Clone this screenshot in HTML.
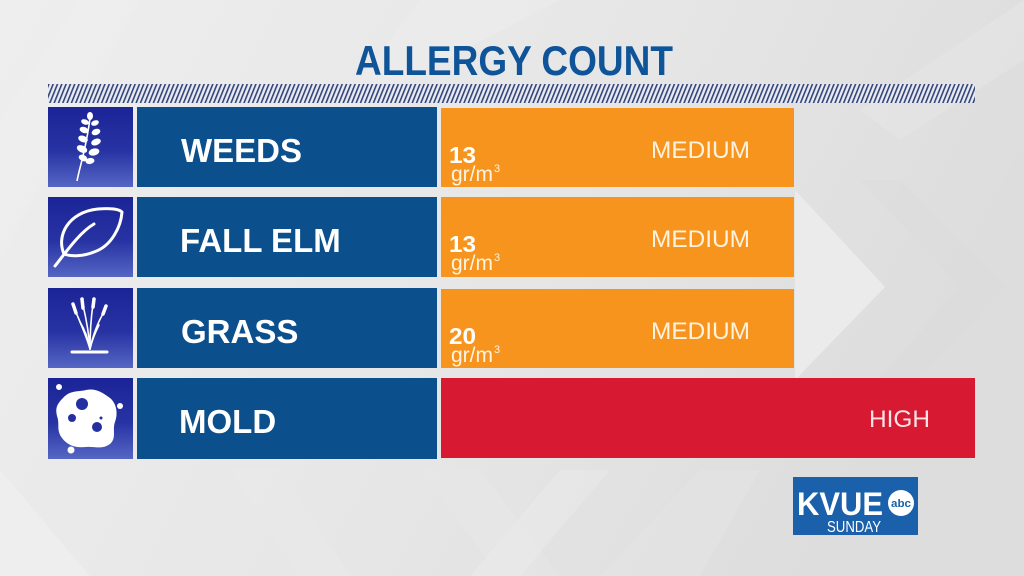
<!DOCTYPE html>
<html><head><meta charset="utf-8"><style>
html,body{margin:0;padding:0;background:#e4e4e4;}
svg{display:block;}
text{font-family:"Liberation Sans",Arial,sans-serif;}
</style></head><body>
<svg width="1024" height="576" viewBox="0 0 1024 576" xmlns="http://www.w3.org/2000/svg">
<defs>
<linearGradient id="bg" x1="0" y1="0" x2="1" y2="0.3">
<stop offset="0" stop-color="#eeeeee"/><stop offset="0.6" stop-color="#e6e6e6"/><stop offset="1" stop-color="#dddddd"/>
</linearGradient>
<linearGradient id="ic" x1="0" y1="0" x2="0" y2="1">
<stop offset="0" stop-color="#1b2496"/><stop offset="0.55" stop-color="#2833a3"/><stop offset="1" stop-color="#5566c4"/>
</linearGradient>
<pattern id="hatch" patternUnits="userSpaceOnUse" width="4" height="4" patternTransform="rotate(22)">
<rect width="4" height="4" fill="#e9ebf1"/><rect x="0" width="1.6" height="4" fill="#33457a"/>
</pattern>
</defs>
<rect width="1024" height="576" fill="url(#bg)"/>
<!-- background shapes -->
<polygon points="0,120 80,0 140,0 0,260" fill="#f0f0f0" opacity="0.4"/>
<polygon points="330,120 420,0 560,0" fill="#f2f2f2" opacity="0.35"/>
<polygon points="0,470 0,576 90,576" fill="#f1f1f1" opacity="0.5"/>
<polygon points="230,470 300,576 350,576 280,470" fill="#ebebeb" opacity="0.4"/>
<polygon points="420,470 500,576 560,576 480,470" fill="#e8e8e8" opacity="0.4"/>
<polygon points="560,470 470,576 520,576 610,470" fill="#ededed" opacity="0.4"/>
<polygon points="700,470 600,576 700,576 760,470" fill="#e5e5e5" opacity="0.4"/>
<polygon points="795,190 885,287 795,380" fill="#ebebeb"/>
<polygon points="860,180 900,180 1005,287 900,400 860,400 960,287" fill="#dcdcdc" opacity="0.6"/>
<polygon points="860,110 1024,0 1024,60 900,140" fill="#e9e9e9" opacity="0.4"/>

<!-- title -->
<text x="355" y="75" font-size="42" font-weight="bold" fill="#0f5499" textLength="318" lengthAdjust="spacingAndGlyphs">ALLERGY COUNT</text>
<!-- hatch -->
<rect x="48" y="84" width="927" height="19" fill="url(#hatch)"/>

<!-- rows -->
<g>
<rect x="48" y="107" width="85" height="80" fill="url(#ic)"/>
<rect x="137" y="107" width="300" height="80" fill="#0b4f8d"/>
<rect x="441" y="108" width="353" height="79" fill="#f7941d"/>

<rect x="48" y="197" width="85" height="80" fill="url(#ic)"/>
<rect x="137" y="197" width="300" height="80" fill="#0b4f8d"/>
<rect x="441" y="197" width="353" height="80" fill="#f7941d"/>

<rect x="48" y="288" width="85" height="80" fill="url(#ic)"/>
<rect x="137" y="288" width="300" height="80" fill="#0b4f8d"/>
<rect x="441" y="289" width="353" height="79" fill="#f7941d"/>

<rect x="48" y="378" width="85" height="81" fill="url(#ic)"/>
<rect x="137" y="378" width="300" height="81" fill="#0b4f8d"/>
<rect x="441" y="378" width="534" height="80" fill="#d71a31"/>
</g>

<!-- labels -->
<g font-size="33" font-weight="bold" fill="#ffffff">
<text x="181" y="162">WEEDS</text>
<text x="180" y="252">FALL ELM</text>
<text x="181" y="343">GRASS</text>
<text x="179" y="433">MOLD</text>
</g>

<!-- values -->
<g fill="#ffffff">
<text x="449" y="163" font-size="23" font-weight="bold" textLength="27" lengthAdjust="spacingAndGlyphs">13</text>
<text x="451" y="181" font-size="21" fill="#fff4e2">gr/m</text>
<text x="494" y="172" font-size="11" fill="#fff4e2">3</text>
<text x="449" y="252" font-size="23" font-weight="bold" textLength="27" lengthAdjust="spacingAndGlyphs">13</text>
<text x="451" y="270" font-size="21" fill="#fff4e2">gr/m</text>
<text x="494" y="261" font-size="11" fill="#fff4e2">3</text>
<text x="449" y="344" font-size="23" font-weight="bold" textLength="27" lengthAdjust="spacingAndGlyphs">20</text>
<text x="451" y="362" font-size="21" fill="#fff4e2">gr/m</text>
<text x="494" y="353" font-size="11" fill="#fff4e2">3</text>
</g>
<g font-size="24" fill="#fff3e0">
<text x="651" y="158" textLength="99" lengthAdjust="spacingAndGlyphs">MEDIUM</text>
<text x="651" y="247" textLength="99" lengthAdjust="spacingAndGlyphs">MEDIUM</text>
<text x="651" y="339" textLength="99" lengthAdjust="spacingAndGlyphs">MEDIUM</text>
<text x="869" y="427" textLength="61" lengthAdjust="spacingAndGlyphs" fill="#fbe4e7">HIGH</text>
</g>

<!-- weeds icon -->
<g fill="#ffffff">
<path d="M77,181 C80,165 86,150 90,118" stroke="#ffffff" stroke-width="1.6" fill="none"/>
<ellipse cx="90" cy="116" rx="3" ry="4"/>
<ellipse cx="85" cy="122" rx="4" ry="2.6" transform="rotate(20 85 122)"/>
<ellipse cx="95" cy="123" rx="4" ry="2.6" transform="rotate(-20 95 123)"/>
<ellipse cx="84" cy="130" rx="4.5" ry="3" transform="rotate(20 84 130)"/>
<ellipse cx="96" cy="132" rx="4.5" ry="3" transform="rotate(-20 96 132)"/>
<ellipse cx="83" cy="139" rx="5" ry="3.2" transform="rotate(20 83 139)"/>
<ellipse cx="96" cy="142" rx="5" ry="3.2" transform="rotate(-20 96 142)"/>
<ellipse cx="82" cy="149" rx="5.5" ry="3.5" transform="rotate(25 82 149)"/>
<ellipse cx="94" cy="152" rx="5.5" ry="3.5" transform="rotate(-15 94 152)"/>
<ellipse cx="83" cy="158" rx="4.5" ry="3" transform="rotate(25 83 158)"/>
<ellipse cx="90" cy="161" rx="4.5" ry="3" transform="rotate(-10 90 161)"/>
</g>

<!-- leaf icon -->
<g stroke="#ffffff" stroke-width="3" fill="none" stroke-linecap="round" stroke-linejoin="round">
<path d="M64,254 C56,236 68,212 98,209 C110,208 119,209 122,212 C121,226 112,246 94,252 C84,256 72,257 64,254 Z"/>
<path d="M55,266 C66,252 80,232 94,224"/>
</g>

<!-- grass icon -->
<g stroke="#ffffff" fill="none" stroke-linecap="round">
<line x1="72" y1="352" x2="107" y2="352" stroke-width="3"/>
<path d="M90,349 C86,335 80,322 75,310" stroke-width="1.6"/>
<path d="M90,349 C89,335 86,318 83,305" stroke-width="1.6"/>
<path d="M90,349 C90,332 91,318 93,304" stroke-width="1.6"/>
<path d="M90,349 C93,335 98,322 104,312" stroke-width="1.6"/>
<path d="M90,349 C88,338 85,330 80,322" stroke-width="1.6"/>
<path d="M90,349 C92,340 95,333 99,325" stroke-width="1.6"/>
<path d="M73,304 L76,313" stroke-width="3.5"/>
<path d="M82,299 L83,308" stroke-width="3.5"/>
<path d="M94,299 L93,307" stroke-width="3.5"/>
<path d="M106,306 L103,314" stroke-width="3.5"/>
</g>

<!-- mold icon -->
<g fill="#ffffff">
<path d="M63,398 C70,390 78,392 86,390 C95,388 102,392 110,398 C117,404 118,414 115,422 C112,430 117,438 110,444 C102,450 94,446 86,447 C76,448 68,446 62,438 C56,430 60,424 57,416 C55,408 57,404 63,398 Z"/>
<circle cx="59" cy="387" r="3"/>
<circle cx="120" cy="406" r="3"/>
<circle cx="71" cy="450" r="3.5"/>
</g>
<g fill="#2530a0">
<circle cx="82" cy="404" r="6"/>
<circle cx="72" cy="418" r="4"/>
<circle cx="97" cy="427" r="5"/>
<circle cx="101" cy="418" r="1.5"/>
</g>

<!-- logo -->
<rect x="793" y="477" width="125" height="58" fill="#1b60aa"/>
<text x="797" y="515" font-size="32" font-weight="bold" fill="#ffffff" textLength="86" lengthAdjust="spacingAndGlyphs">KVUE</text>
<circle cx="901" cy="503" r="13" fill="#ffffff"/>
<text x="901" y="507" font-size="11" font-weight="bold" fill="#1b60aa" text-anchor="middle" textLength="20" lengthAdjust="spacingAndGlyphs">abc</text>
<text x="827" y="532" font-size="16" fill="#ffffff" textLength="54" lengthAdjust="spacingAndGlyphs">SUNDAY</text>
</svg>
</body></html>
